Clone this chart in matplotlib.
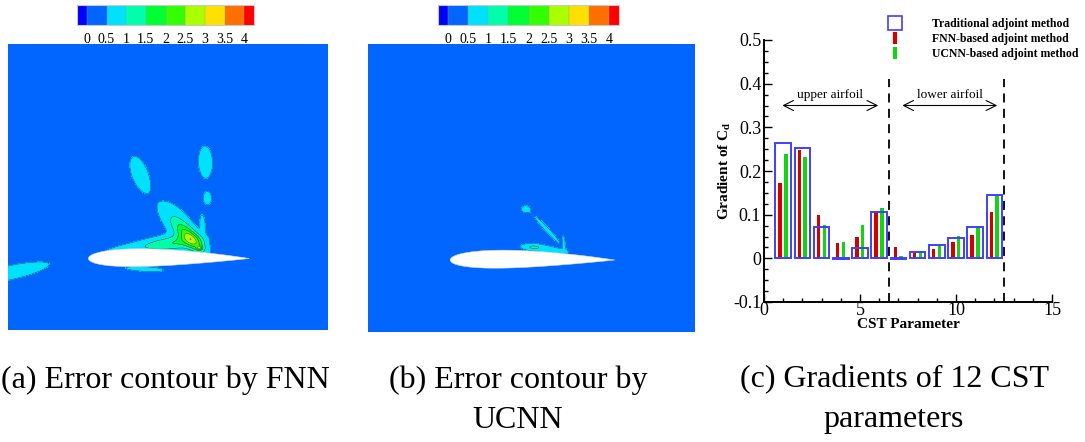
import numpy as np
import matplotlib
matplotlib.use("Agg")
import matplotlib.pyplot as plt
from matplotlib.colors import ListedColormap, BoundaryNorm
from matplotlib.cm import ScalarMappable
from matplotlib.lines import Line2D
from matplotlib.ticker import FixedLocator, FixedFormatter, NullLocator

plt.rcParams['font.family'] = 'Liberation Serif'
plt.rcParams['mathtext.fontset'] = 'custom'
plt.rcParams['mathtext.rm'] = 'Liberation Serif'
plt.rcParams['mathtext.bf'] = 'Liberation Serif:bold'
plt.rcParams['mathtext.it'] = 'Liberation Serif:italic'
plt.rcParams['axes.unicode_minus'] = False

# ---------------- contour colour levels ----------------
levels = [0, 0.5, 1, 1.5, 2, 2.5, 3, 3.5, 4]
level_labels = ['0', '0.5', '1', '1.5', '2', '2.5', '3', '3.5', '4']
level_colors = ['#0066ff', '#00e0ff', '#00ffaa', '#00ff33',
                '#33ff00', '#aaff00', '#ffe000', '#ff7000']
under_color = '#0000ff'
over_color = '#ff0000'

# ---------------- error sources (chord-normalised coordinates) ----------------
background_error = 0.25

# FNN prediction error
fnn_x   = [0.32, 0.728, 0.74, 0.36, 0.56, 0.64, 0.52, 0.69, 0.71, -0.50, 0.35]
fnn_y   = [0.52, 0.593, 0.37, 0.075, 0.21, 0.12, 0.09, 0.065, 0.22, -0.09, -0.065]
fnn_len = [0.086, 0.075, 0.03, 0.22, 0.12, 0.075, 0.11, 0.012, 0.04, 0.18, 0.10]
fnn_wid = [0.038, 0.033, 0.019, 0.028, 0.05, 0.03, 0.035, 0.008, 0.012, 0.03, 0.012]
fnn_ang = [111, 92, 92, 8, 131, 135, 5, 0, 95, 12, -3]
fnn_amp = [0.6, 0.6, 0.6, 0.5, 0.75, 1.7, 0.8, 1.3, 0.5, 0.7, 0.5]

# UCNN prediction error
ucnn_x   = [0.46, 0.59, 0.69, 0.58, 0.50]
ucnn_y   = [0.31, 0.185, 0.12, 0.065, 0.08]
ucnn_len = [0.02, 0.085, 0.025, 0.10, 0.04]
ucnn_wid = [0.015, 0.009, 0.006, 0.018, 0.012]
ucnn_ang = [0, 133, 100, -8, 0]
ucnn_amp = [0.6, 0.6, 0.55, 0.55, 0.45]

# airfoil section
airfoil_thickness = 0.11
airfoil_camber = 0.006
airfoil_camber_pos = 0.5

# plotted window (chord units)
x_window = (-0.5, 1.49)
y_window = (-0.44, 1.32)

# ---------------- gradient data ----------------
cst_index = np.arange(1, 13)
grad_traditional = [0.264, 0.253, 0.071, -0.002, 0.024, 0.105,
                    -0.002, 0.014, 0.030, 0.0465, 0.072, 0.146]
grad_fnn = [0.172, 0.249, 0.100, 0.035, 0.049, 0.105,
            0.027, 0.012, 0.021, 0.037, 0.053, 0.105]
grad_ucnn = [0.238, 0.233, 0.077, 0.037, 0.077, 0.116,
             0.006, 0.016, 0.030, 0.051, 0.073, 0.142]
legend_labels = ['Traditional adjoint method', 'FNN-based adjoint method',
                 'UCNN-based adjoint method']
surface_split = [6.5, 12.5]
surface_names = ['upper airfoil', 'lower airfoil']
surface_ranges = [(0.95, 5.95), (7.2, 12.15)]

captions = [['(a) Error contour by FNN'],
            ['(b) Error contour by', 'UCNN'],
            ['(c) Gradients of 12 CST', 'parameters']]

W, H = 1085, 442
fig = plt.figure(figsize=(W / 100, H / 100), dpi=100)


def px_axes(left, top, right, bottom):
    return fig.add_axes([left / W, 1 - bottom / H, (right - left) / W, (bottom - top) / H])


cmap = ListedColormap(level_colors).with_extremes(under=under_color, over=over_color)

gx = np.linspace(*x_window, 700)
gy = np.linspace(*y_window, 620)
GX, GY = np.meshgrid(gx, gy)


def error_field(xs, ys, lens, wids, angs, amps):
    f = np.full_like(GX, background_error)
    for x0, y0, a, b, th, amp in zip(xs, ys, lens, wids, angs, amps):
        t = np.deg2rad(th)
        u = (GX - x0) * np.cos(t) + (GY - y0) * np.sin(t)
        v = -(GX - x0) * np.sin(t) + (GY - y0) * np.cos(t)
        f += amp * np.exp(-0.5 * ((u / a) ** 2 + (v / b) ** 2))
    return f


def airfoil_outline():
    beta = np.linspace(0, np.pi, 200)
    xc = 0.5 * (1 - np.cos(beta))
    t = airfoil_thickness
    yt = 5 * t * (0.2969 * np.sqrt(xc) - 0.1260 * xc - 0.3516 * xc ** 2
                  + 0.2843 * xc ** 3 - 0.1036 * xc ** 4)
    m, p = airfoil_camber, airfoil_camber_pos
    yc = np.where(xc < p, m / p ** 2 * (2 * p * xc - xc ** 2),
                  m / (1 - p) ** 2 * ((1 - 2 * p) + 2 * p * xc - xc ** 2))
    xs = np.concatenate([xc[::-1], xc[1:]])
    ys = np.concatenate([(yc + yt)[::-1], (yc - yt)[1:]])
    return xs, ys


def contour_panel(box, field, cbar_box):
    norm = BoundaryNorm(levels, ncolors=len(level_colors))
    ax = px_axes(*box)
    ax.contourf(GX, GY, field, levels=levels, cmap=cmap, norm=norm, extend='both')
    ax.contour(GX, GY, field, levels=levels[1:], colors='#1d3f66', linewidths=0.35)
    ax_x, ax_y = airfoil_outline()
    ax.fill(ax_x, ax_y, color='white', zorder=3, lw=0.4, ec='#cfd8e8')
    ax.set_xlim(*x_window)
    ax.set_ylim(*y_window)
    ax.set_axis_off()
    cax = px_axes(*cbar_box)
    cb = fig.colorbar(ScalarMappable(norm=BoundaryNorm(levels, ncolors=len(level_colors)),
                                     cmap=cmap),
                      cax=cax, orientation='horizontal', extend='both', extendrect=True,
                      extendfrac=0.0625, drawedges=True)
    return cb


fnn_field = error_field(fnn_x, fnn_y, fnn_len, fnn_wid, fnn_ang, fnn_amp)
ucnn_field = error_field(ucnn_x, ucnn_y, ucnn_len, ucnn_wid, ucnn_ang, ucnn_amp)

colorbars = [contour_panel((8, 44, 328, 330), fnn_field, (77, 5, 254, 25)),
             contour_panel((368, 44, 695, 332), ucnn_field, (438, 5, 619, 25))]
for cb in colorbars:
    cb.ax.xaxis.set_major_locator(FixedLocator(levels))
    cb.ax.xaxis.set_major_formatter(FixedFormatter(level_labels))
    cb.ax.xaxis.set_minor_locator(NullLocator())
    cb.ax.tick_params(length=0, labelsize=10, pad=6)
    cb.outline.set_edgecolor('#c8c8c8')
    cb.outline.set_linewidth(0.8)
    cb.dividers.set_color('#9a9a9a')
    cb.dividers.set_linewidth(0.3)

# ---------------- gradient bar chart ----------------
blue, red, green = '#3f3fff', '#d40000', '#14d214'
ax = px_axes(764, 40, 1052, 302)
ax.bar(cst_index, grad_traditional, width=0.82, fill=False, edgecolor=blue, lw=1.4, zorder=3)
ax.bar(cst_index - 0.16, grad_fnn, width=0.18, color=red, zorder=2)
ax.bar(cst_index + 0.14, grad_ucnn, width=0.18, color=green, zorder=2)

ax.vlines(surface_split, -0.1, 0.41, colors='k', linestyles=(0, (5, 3.5)), lw=1.3)
for name, (x0, x1) in zip(surface_names, surface_ranges):
    ax.annotate('', xy=(x0, 0.35), xytext=(x1, 0.35),
                arrowprops=dict(arrowstyle='<->', lw=0.8, color='k',
                                mutation_scale=18, shrinkA=0, shrinkB=0))
    ax.text((x0 + x1) / 2, 0.373, name, ha='center', va='center', fontsize=9.5)

ax.set_xlim(0, 15)
ax.set_ylim(-0.1, 0.5)
ax.set_xticks([0, 5, 10, 15])
ax.set_xticks(np.arange(0, 16, 1), minor=True)
ax.set_yticks(np.round(np.arange(-0.1, 0.51, 0.1), 2))
ax.set_yticks(np.arange(-0.1, 0.501, 0.025), minor=True)
ax.set_yticklabels(['-0.1', '0', '0.1', '0.2', '0.3', '0.4', '0.5'])
ax.tick_params(which='both', direction='in', top=False, right=False,
               labelsize=13, width=1.0, pad=2)
ax.tick_params(axis='x', which='both', pad=0)
ax.tick_params(which='major', length=6)
ax.tick_params(which='minor', length=3)
for side in ('top', 'right'):
    ax.spines[side].set_visible(False)
for side in ('left', 'bottom'):
    ax.spines[side].set_linewidth(1.4)
ax.set_xlabel('CST Parameter', fontsize=11, fontweight='bold', labelpad=-1)
ax.set_ylabel(r'Gradient of C$_\mathbf{d}$', fontsize=11, fontweight='bold', labelpad=0)

handles = [Line2D([], [], ls='none', marker='s', ms=10, mfc='none', mec=blue, mew=1.2),
           Line2D([], [], ls='none', marker='|', ms=8.5, mec=red, mew=3),
           Line2D([], [], ls='none', marker='|', ms=8.5, mec=green, mew=3)]
fig.legend(handles, legend_labels, loc='upper left',
           bbox_to_anchor=(889 / W, 1 - 18 / H), frameon=False,
           prop={'weight': 'bold', 'size': 8.5}, handlelength=1.0,
           handletextpad=2.6, labelspacing=0.25, borderpad=0, borderaxespad=0)

# ---------------- captions ----------------
caption_x = [165, 518, 894]
for cx, lines in zip(caption_x, captions):
    for k, line in enumerate(lines):
        fig.text(cx / W, 1 - (380 + 40 * k) / H, line, ha='center', va='center', fontsize=23)

fig.savefig('out.png', dpi=100)
